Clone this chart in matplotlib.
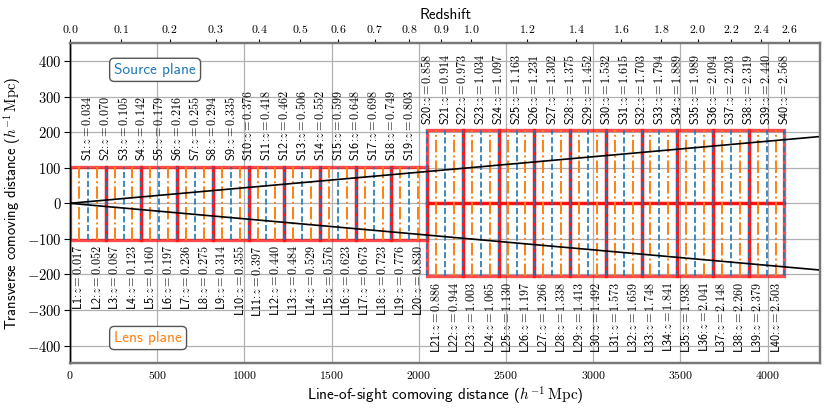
import matplotlib
matplotlib.use("Agg")
import matplotlib.pyplot as plt
import matplotlib.patches as patches
import numpy as np

plt.rcParams["mathtext.fontset"] = "cm"
plt.rcParams["font.family"] = ["cmss10", "DejaVu Sans"]

# plane positions (h^-1 Mpc) and their redshifts
lens_chi = [51.2, 153.6, 256.0, 358.4, 460.8, 563.2, 665.6, 768.0, 870.4, 972.8,
            1075.2, 1177.6, 1280.0, 1382.4, 1484.8, 1587.2, 1689.6, 1792.0, 1894.4, 1996.8,
            2099.2, 2201.6, 2304.0, 2406.4, 2508.8, 2611.2, 2713.6, 2816.0, 2918.4, 3020.8,
            3123.2, 3225.6, 3328.0, 3430.4, 3532.8, 3635.2, 3737.6, 3840.0, 3942.4, 4044.8]
source_chi = [102.4, 204.8, 307.2, 409.6, 512.0, 614.4, 716.8, 819.2, 921.6, 1024.0,
              1126.4, 1228.8, 1331.2, 1433.6, 1536.0, 1638.4, 1740.8, 1843.2, 1945.6, 2048.0,
              2150.4, 2252.8, 2355.2, 2457.6, 2560.0, 2662.4, 2764.8, 2867.2, 2969.6, 3072.0,
              3174.4, 3276.8, 3379.2, 3481.6, 3584.0, 3686.4, 3788.8, 3891.2, 3993.6, 4096.0]
lens_z = [0.017, 0.052, 0.087, 0.123, 0.160, 0.197, 0.236, 0.275, 0.314, 0.355,
          0.397, 0.440, 0.484, 0.529, 0.576, 0.623, 0.673, 0.723, 0.776, 0.830,
          0.886, 0.944, 1.003, 1.065, 1.130, 1.197, 1.266, 1.338, 1.413, 1.492,
          1.573, 1.659, 1.748, 1.841, 1.938, 2.041, 2.148, 2.260, 2.379, 2.503]
source_z = [0.034, 0.070, 0.105, 0.142, 0.179, 0.216, 0.255, 0.294, 0.335, 0.376,
            0.418, 0.462, 0.506, 0.552, 0.599, 0.648, 0.698, 0.749, 0.803, 0.858,
            0.914, 0.973, 1.034, 1.097, 1.163, 1.231, 1.302, 1.375, 1.452, 1.532,
            1.615, 1.703, 1.794, 1.889, 1.989, 2.094, 2.203, 2.319, 2.440, 2.568]

# simulation boxes (x0), side 204.8
box_side = 204.8
near_box_x0 = [0.0, 204.8, 409.6, 614.4, 819.2, 1024.0, 1228.8, 1433.6, 1638.4, 1843.2]
far_box_x0 = [2048.0, 2252.8, 2457.6, 2662.4, 2867.2, 3072.0, 3276.8, 3481.6, 3686.4, 3891.2]
near_half = 102.4
far_half = 204.8
far_start = 2048.0
fov_half_deg = 2.5

z_ticks = [0.0, 0.1, 0.2, 0.3, 0.4, 0.5, 0.6, 0.7, 0.8, 0.9, 1.0, 1.2, 1.4, 1.6, 1.8, 2.0, 2.2, 2.4, 2.6]
x_ticks = [0, 500, 1000, 1500, 2000, 2500, 3000, 3500, 4000]
y_ticks = [-400, -300, -200, -100, 0, 100, 200, 300, 400]

Om = 0.3089
def chi_of_z(z):
    zz = np.linspace(0, z, 2001)
    return 2997.92458 * np.trapezoid(1.0 / np.sqrt(Om * (1 + zz) ** 3 + 1 - Om), zz)

blue = "#1f77b4"
orange = "#ff7f0e"
lab_fs = 8.8

fig = plt.figure(figsize=(8.3, 4.15), dpi=100)
ax = fig.add_axes([0.0843, 0.1246, 0.9037, 0.7711])
ax.set_xlim(0, 4300)
ax.set_ylim(-450, 450)
ax.grid(True, color="#b0b0b0", lw=0.9, zorder=0)
ax.set_axisbelow(True)

# boxes
for x0 in near_box_x0:
    ax.add_patch(patches.Rectangle((x0, -near_half), box_side, 2 * near_half, fill=False,
                                   edgecolor="red", alpha=0.7, lw=2.4, zorder=2))
for x0 in far_box_x0:
    for y0 in (-far_half, 0.0):
        ax.add_patch(patches.Rectangle((x0, y0), box_side, far_half, fill=False,
                                       edgecolor="red", alpha=0.7, lw=2.4, zorder=2))

# lens planes
for i, (x, z) in enumerate(zip(lens_chi, lens_z)):
    h = far_half if x >= far_start else near_half
    ax.plot([x, x], [-h, h], color=orange, ls="-.", lw=1.4, zorder=3)
    ax.annotate(f"L{i+1}:" + r"$z = %.3f$" % z, (x, -h), xytext=(0, -4),
                textcoords="offset points", rotation=90, ha="center", va="top",
                fontsize=lab_fs, zorder=4)
# source planes
for i, (x, z) in enumerate(zip(source_chi, source_z)):
    h = far_half if x >= far_start else near_half
    ax.plot([x, x], [-h, h], color=blue, ls="--", lw=1.2, zorder=3)
    ax.annotate(f"S{i+1}:" + r"$z = %.3f$" % z, (x, h), xytext=(0, 4),
                textcoords="offset points", rotation=90, ha="center", va="bottom",
                fontsize=lab_fs, zorder=4)

# field of view
t = np.tan(np.radians(fov_half_deg))
ax.axline((0, 0), slope=t, color="black", lw=1.2, zorder=5)
ax.axline((0, 0), slope=-t, color="black", lw=1.2, zorder=5)

bbox = dict(boxstyle="round,pad=0.3", fc="white", ec="#555555", lw=1.0)
ax.text(0.059, 0.917, "Source plane", transform=ax.transAxes, color=blue, fontsize=11,
        ha="left", va="center", bbox=bbox, zorder=6)
ax.text(0.059, 0.079, "Lens plane", transform=ax.transAxes, color=orange, fontsize=11,
        ha="left", va="center", bbox=bbox, zorder=6)

ax.set_xticks(x_ticks)
ax.set_xticklabels([f"${v}$" for v in x_ticks], fontsize=8.5)
ax.set_yticks(y_ticks)
ax.set_yticklabels([f"${v}$" for v in y_ticks], fontsize=10.5)
ax.tick_params(axis="x", length=0, pad=5)
ax.tick_params(axis="y", length=4, width=0.8, pad=2)
ax.set_xlabel(r"Line-of-sight comoving distance ($h^{-1}\,\mathrm{Mpc}$)", fontsize=11, labelpad=2)
ax.set_ylabel(r"Transverse comoving distance ($h^{-1}\,\mathrm{Mpc}$)", fontsize=10.5, labelpad=3)

ax2 = ax.twiny()
ax2.set_xlim(ax.get_xlim())
ax2.set_xticks([chi_of_z(z) for z in z_ticks])
ax2.set_xticklabels([f"${z:.1f}$" for z in z_ticks], fontsize=8.5)
ax2.tick_params(axis="x", length=3, width=0.8, pad=2)
ax2.set_xlabel("Redshift", fontsize=11, labelpad=3.5)

for a in (ax, ax2):
    for s in ("top", "bottom", "right"):
        a.spines[s].set_color("#777777")
        a.spines[s].set_linewidth(1.6)
    a.spines["left"].set_color("black")
    a.spines["left"].set_linewidth(1.0)

fig.savefig("out.png", dpi=100)
